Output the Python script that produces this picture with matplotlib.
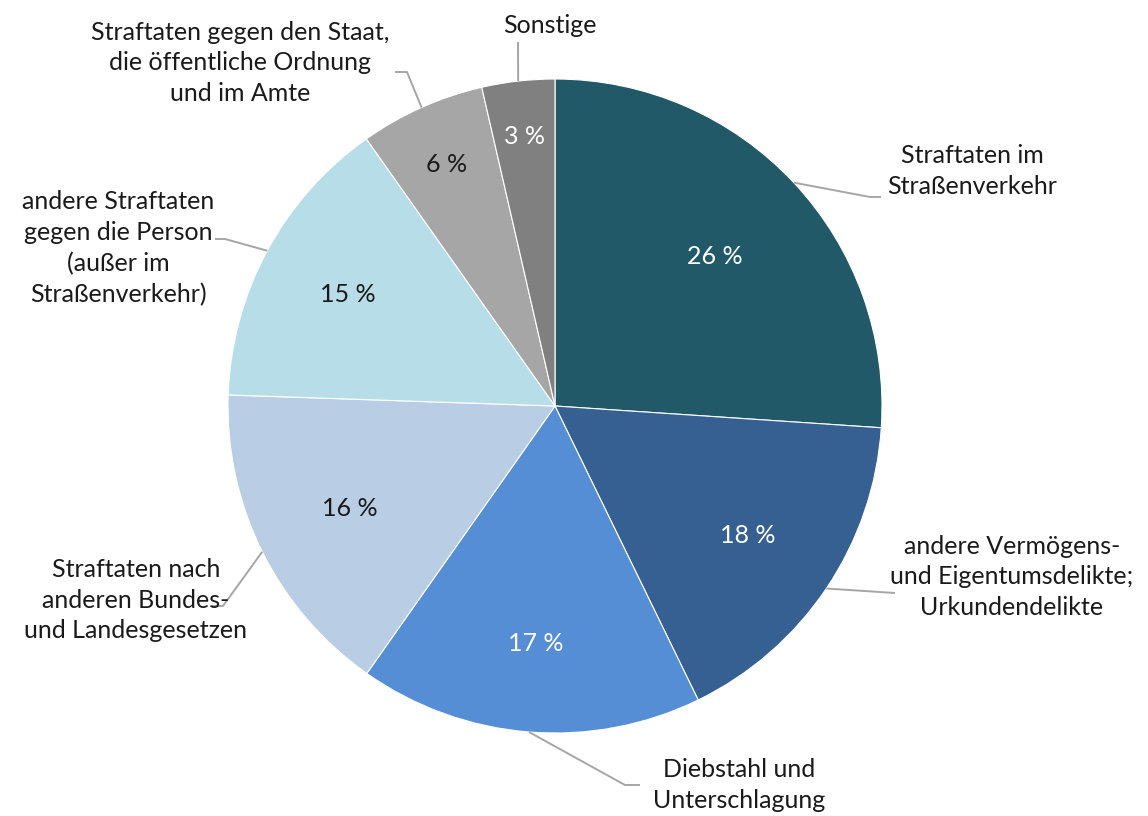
import numpy as np
import matplotlib
matplotlib.use("Agg")
import matplotlib.pyplot as plt

plt.rcParams['font.family'] = ['Lato', 'DejaVu Sans']

categories = [
    "Straftaten im\nStraßenverkehr",
    "andere Vermögens-\nund Eigentumsdelikte;\nUrkundendelikte",
    "Diebstahl und\nUnterschlagung",
    "Straftaten nach\nanderen Bundes-\nund Landesgesetzen",
    "andere Straftaten\ngegen die Person\n(außer im\nStraßenverkehr)",
    "Straftaten gegen den Staat,\ndie öffentliche Ordnung\nund im Amte",
    "Sonstige",
]
values = [26.1, 16.75, 17.0, 15.8, 14.7, 6.2, 3.6]
pct_labels = ["26 %", "18 %", "17 %", "16 %", "15 %", "6 %", "3 %"]
colors = ["#215968", "#376092", "#558ED5", "#B9CDE5", "#B7DEE8", "#A6A6A6", "#808080"]
pct_colors = ["white", "white", "white", "#1a1a1a", "#1a1a1a", "#1a1a1a", "white"]

W, H = 1148, 816
CX, CY, R = 555, 406, 327

fig = plt.figure(figsize=(W / 100, H / 100), dpi=100)
ax = fig.add_axes([0, 0, 1, 1])

def px(x, y):
    return ((x - CX) / R, (CY - y) / R)

wedges, _ = ax.pie(values, colors=colors, startangle=90, counterclock=False,
                   radius=1.0, wedgeprops=dict(edgecolor='white', linewidth=0.8))
ax.set_aspect('auto')
ax.set_xlim(-CX / R, (W - CX) / R)
ax.set_ylim((CY - H) / R, CY / R)
ax.axis('off')

pct_r = [0.67, 0.71, 0.73, 0.70, 0.72, 0.81, 0.83]
for w, lab, c, r in zip(wedges, pct_labels, pct_colors, pct_r):
    mid = np.deg2rad((w.theta1 + w.theta2) / 2)
    ax.text(r * np.cos(mid), r * np.sin(mid), lab, ha='center', va='center',
            fontsize=18, color=c)

# label layout (pixel positions of leader elbows/ends and text centers)
leader_pts = [
    [(870, 197), (881, 197)],
    [(895, 593)],
    [(625, 785), (640, 785)],
    [(223, 606), (212, 606)],
    [(225, 239), (215, 239)],
    [(407, 72), (395, 72)],
    [(518, 42)],
]
text_pos = [(972, 171), (1012, 577), (739, 785), (136, 600),
            (118, 248), (240, 63), (550, 25)]

for w, cat, pts, tp in zip(wedges, categories, leader_pts, text_pos):
    mid = np.deg2rad((w.theta1 + w.theta2) / 2)
    xs = [np.cos(mid)] + [px(*p)[0] for p in pts]
    ys = [np.sin(mid)] + [px(*p)[1] for p in pts]
    ax.plot(xs, ys, color='#A6A6A6', lw=1.4, solid_capstyle='butt')
    tx, ty = px(*tp)
    ax.text(tx, ty, cat, ha='center', va='center', multialignment='center',
            fontsize=18, color='#1a1a1a', linespacing=1.42)

fig.savefig("out.png", dpi=100, facecolor='white')
